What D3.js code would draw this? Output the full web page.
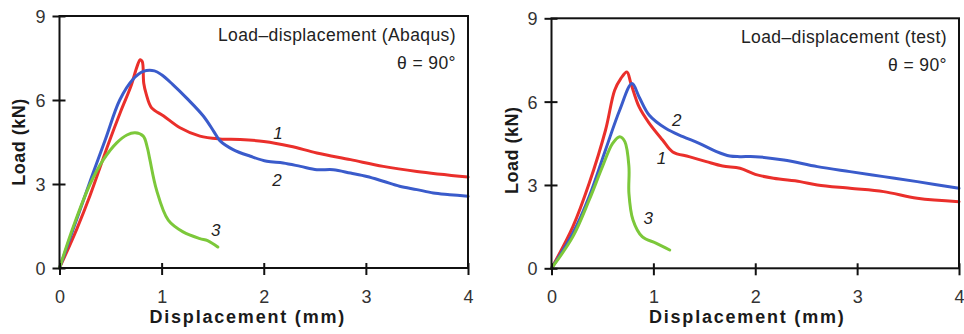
<!DOCTYPE html>
<html><head><meta charset="utf-8">
<script src="https://cdn.jsdelivr.net/npm/d3@7"></script>
<style>
body{margin:0;background:#fff;}
svg{display:block;font-family:"Liberation Sans",Arial,Helvetica,sans-serif;}
</style></head>
<body>
<svg id="c" width="964" height="334"></svg>
<script>
// ---- data ----
const xTicks = [0, 1, 2, 3, 4];
const yTicks = [0, 3, 6, 9];
const xLabel = "Displacement (mm)";
const yLabel = "Load (kN)";
const panelTitles = ["Load\u2013displacement (Abaqus)", "Load\u2013displacement (test)"];
const angleLabel = "\u03B8 = 90\u00B0";
const seriesNames = ["1", "2", "3"];

// Abaqus panel [displacement mm, load kN]
const abaqus1 = [[0,0],[0.17,1.4],[0.3,2.6],[0.48,4.45],[0.6,5.6],[0.7,6.5],[0.76,7.2],[0.79,7.44],[0.81,7.38],[0.825,6.6],[0.85,6.2],[0.9,5.73],[1.02,5.43],[1.18,5.01],[1.375,4.71],[1.57,4.61],[1.77,4.59],[2.0,4.52],[2.26,4.35],[2.52,4.11],[2.85,3.87],[3.17,3.63],[3.5,3.45],[4.0,3.25]];
const abaqus2 = [[0,0],[0.15,1.55],[0.3,3.1],[0.45,4.6],[0.59,6.0],[0.72,6.74],[0.82,7.02],[0.93,7.04],[1.0,6.9],[1.11,6.55],[1.25,6.05],[1.41,5.42],[1.51,4.88],[1.57,4.55],[1.7,4.23],[1.87,3.99],[2.03,3.81],[2.19,3.75],[2.36,3.63],[2.52,3.51],[2.68,3.51],[2.85,3.39],[3.01,3.27],[3.17,3.10],[3.33,2.92],[3.5,2.80],[3.66,2.68],[3.82,2.62],[4.0,2.56]];
const abaqus3 = [[0,0],[0.135,1.47],[0.3,3.0],[0.43,3.87],[0.56,4.47],[0.66,4.75],[0.74,4.83],[0.82,4.71],[0.86,4.3],[0.885,3.87],[0.95,2.79],[1.065,1.71],[1.21,1.29],[1.375,1.05],[1.45,0.98],[1.55,0.75]];

// Test panel
const test1 = [[0,0],[0.21,1.5],[0.37,3.06],[0.53,4.97],[0.62,6.41],[0.68,6.83],[0.74,7.07],[0.78,6.65],[0.86,5.81],[0.96,5.22],[1.09,4.62],[1.19,4.19],[1.35,4.02],[1.52,3.84],[1.68,3.68],[1.85,3.6],[2.0,3.38],[2.18,3.24],[2.44,3.12],[2.61,3.0],[2.93,2.88],[3.26,2.76],[3.59,2.52],[4.0,2.4]];
const test2 = [[0,0],[0.21,1.26],[0.37,2.58],[0.53,4.26],[0.67,5.7],[0.79,6.65],[0.86,6.17],[0.96,5.51],[1.12,5.04],[1.29,4.74],[1.45,4.5],[1.62,4.2],[1.75,4.04],[1.85,4.02],[2.0,4.02],[2.28,3.9],[2.61,3.66],[2.93,3.48],[3.26,3.3],[3.59,3.12],[4.0,2.88]];
const test3 = [[0,0],[0.21,1.14],[0.37,2.46],[0.5,3.66],[0.6,4.5],[0.67,4.74],[0.72,4.56],[0.76,3.66],[0.76,2.7],[0.8,1.74],[0.89,1.14],[1.03,0.9],[1.16,0.66]];

// label anchor positions in data coords [x, y] for series 1, 2, 3
const abaqusLabelPos = [[2.14,4.81],[2.13,3.14],[1.53,1.36]];
const testLabelPos = [[1.08,3.96],[1.23,5.34],[0.95,1.8]];

// ---- drawing ----
const colors = ["#ea2f2b", "#3a5bcb", "#7cc83a"];
const svg = d3.select("#c");

const panels = [
  {left:59.5, right:468, top:16, bottom:268, series:[abaqus1,abaqus2,abaqus3], labels:abaqusLabelPos, title:panelTitles[0], xTitleShift:-16, yTitleX:19, yTitleShift:0},
  {left:551.5, right:959, top:18.3, bottom:268.3, series:[test1,test2,test3], labels:testLabelPos, title:panelTitles[1], xTitleShift:-8, yTitleX:512, yTitleShift:7}
];

panels.forEach(p => {
  const x = d3.scaleLinear().domain([0,4]).range([p.left, p.right]);
  const y = d3.scaleLinear().domain([0,9]).range([p.bottom, p.top]);
  const g = svg.append("g");

  // curves
  const line = d3.line().x(d=>x(d[0])).y(d=>y(d[1])).curve(d3.curveCatmullRom.alpha(0.5));
  p.series.forEach((s,i) => {
    g.append("path").attr("d", line(s)).attr("fill","none")
      .attr("stroke", colors[i]).attr("stroke-width", 3)
      .attr("stroke-linejoin","round").attr("stroke-linecap","round");
  });

  // frame
  g.append("rect").attr("x", p.left).attr("y", p.top)
    .attr("width", p.right-p.left).attr("height", p.bottom-p.top)
    .attr("fill","none").attr("stroke","#111").attr("stroke-width",2);

  // x axis
  const xa = g.append("g").attr("transform",`translate(0,${p.bottom})`)
    .call(d3.axisBottom(x).tickValues(xTicks).tickFormat(d3.format("d")));
  xa.select(".domain").remove();
  xa.selectAll(".tick line").attr("y1",-5).attr("y2",7).attr("stroke","#111").attr("stroke-width",2);
  xa.selectAll(".tick text").attr("y",35).attr("dy",0).attr("fill","#333")
    .style("font-size","18px").style("font-family","'Liberation Sans',Arial,sans-serif");

  // y axis
  const ya = g.append("g").attr("transform",`translate(${p.left},0)`)
    .call(d3.axisLeft(y).tickValues(yTicks).tickFormat(d3.format("d")));
  ya.select(".domain").remove();
  ya.selectAll(".tick line").attr("x1",-7).attr("x2",6).attr("stroke","#111").attr("stroke-width",2);
  ya.selectAll(".tick text").attr("x",-14).attr("dy","0.36em").attr("fill","#333")
    .style("font-size","18px").style("font-family","'Liberation Sans',Arial,sans-serif");

  // axis titles
  g.append("text").attr("x",(p.left+p.right)/2 + p.xTitleShift).attr("y",323)
    .attr("text-anchor","middle").attr("font-weight","bold").attr("font-size",18)
    .attr("letter-spacing","1.8px").attr("fill","#1a1a1a").text(xLabel);
  const cy = (p.top+p.bottom)/2 + p.yTitleShift;
  g.append("text").attr("transform",`translate(${p.yTitleX+6},${cy}) rotate(-90)`)
    .attr("text-anchor","middle").attr("font-weight","bold").attr("font-size",18)
    .attr("letter-spacing","0.5px").attr("fill","#1a1a1a").text(yLabel);

  // panel annotations
  g.append("text").attr("x",p.right-12).attr("y",p.top+25)
    .attr("text-anchor","end").attr("font-size",17.5).attr("letter-spacing","0.4px")
    .attr("fill","#222").text(p.title);
  g.append("text").attr("x",p.right-12).attr("y",p.top+53)
    .attr("text-anchor","end").attr("font-size",17.5).attr("letter-spacing","0.4px")
    .attr("fill","#222").text(angleLabel);

  // curve labels
  p.labels.forEach((pos,i) => {
    g.append("text").attr("x",x(pos[0])).attr("y",y(pos[1]))
      .attr("text-anchor","middle").attr("dy","0.36em")
      .attr("font-style","italic").attr("font-size",17).attr("fill","#222")
      .text(seriesNames[i]);
  });
});
</script>
</body></html>
